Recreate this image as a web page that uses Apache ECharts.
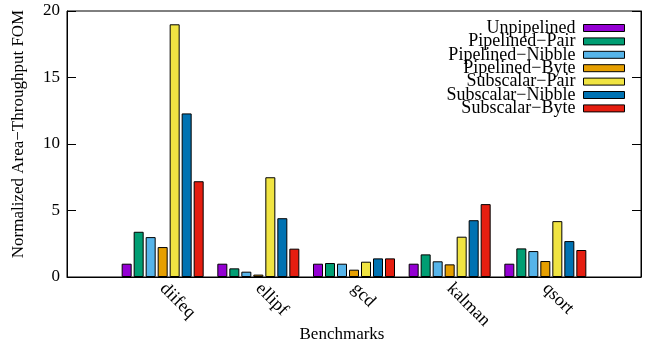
<!DOCTYPE html>
<html><head><meta charset="utf-8">
<script src="https://cdn.jsdelivr.net/npm/echarts@6/dist/echarts.min.js"></script>
<style>html,body{margin:0;padding:0;background:#fff}#c{width:652px;height:345px}</style>
</head><body><div id="c"></div>
<script>
const categories = ['', 'diifeq', 'ellipf', 'gcd', 'kalman', 'qsort', ''];
const seriesNames = ['Unpipelined', 'Pipelined\u2212Pair', 'Pipelined\u2212Nibble', 'Pipelined\u2212Byte', 'Subscalar\u2212Pair', 'Subscalar\u2212Nibble', 'Subscalar\u2212Byte'];
const unpipelined     = [null, 1.0, 1.0, 1.0, 1.0, 1.0, null];
const pipelinedPair   = [null, 3.4, 0.65, 1.05, 1.7, 2.15, null];
const pipelinedNibble = [null, 3.0, 0.4, 1.0, 1.18, 1.95, null];
const pipelinedByte   = [null, 2.25, 0.18, 0.55, 0.95, 1.2, null];
const subscalarPair   = [null, 19.0, 7.5, 1.15, 3.03, 4.2, null];
const subscalarNibble = [null, 12.3, 4.42, 1.4, 4.27, 2.7, null];
const subscalarByte   = [null, 7.2, 2.13, 1.4, 5.48, 2.03, null];
const yTicks = [0, 5, 10, 15, 20];
const colors = ['#9400d3', '#009e73', '#56b4e9', '#e69f00', '#f0e442', '#0072b2', '#e51e10'];
const allData = [unpipelined, pipelinedPair, pipelinedNibble, pipelinedByte, subscalarPair, subscalarNibble, subscalarByte];
const FONT = 'Liberation Serif';

const chart = echarts.init(document.getElementById('c'));
chart.setOption({
  animation: false,
  backgroundColor: '#fff',
  textStyle: { fontFamily: FONT },
  grid: { left: 67, right: 11, top: 11, bottom: 68, show: true, borderColor: '#000', borderWidth: 1, containLabel: false, outerBoundsMode: 'none' },
  legend: {
    orient: 'vertical', align: 'right', right: 22, top: 14,
    itemWidth: 41, itemHeight: 7, itemGap: -4.6,
    icon: 'rect',
    data: seriesNames,
    textStyle: { fontFamily: FONT, fontSize: 18, color: '#000', lineHeight: 18, padding: [0, 3, 0, 0] },
    itemStyle: { borderColor: '#000', borderWidth: 1 }
  },
  xAxis: {
    type: 'category', data: categories, boundaryGap: false,
    axisLine: { lineStyle: { color: '#000', width: 1 } },
    axisTick: { show: false },
    axisLabel: { interval: 0, rotate: -45, margin: 9, fontFamily: FONT, fontSize: 18, color: '#000' },
    name: 'Benchmarks', nameLocation: 'middle', nameGap: 49, nameMoveOverlap: false,
    nameTextStyle: { fontFamily: FONT, fontSize: 17, color: '#000', padding: [0, 24, 0, 0] }
  },
  yAxis: [{
    type: 'value', min: yTicks[0], max: yTicks[yTicks.length - 1], interval: 5,
    axisLine: { show: true, lineStyle: { color: '#000' } },
    axisTick: { show: true, inside: true, length: 9, lineStyle: { color: '#000' } },
    splitLine: { show: false },
    axisLabel: { margin: 7, fontFamily: FONT, fontSize: 17, color: '#000' },
    name: 'Normalized Area\u2212Throughput FOM', nameLocation: 'middle', nameGap: 40, nameMoveOverlap: false,
    nameTextStyle: { fontFamily: FONT, fontSize: 17, color: '#000', padding: [0, 0, 0, 20] }
  }, {
    type: 'value', position: 'right', min: yTicks[0], max: yTicks[yTicks.length - 1], interval: 5,
    axisLine: { show: true, lineStyle: { color: '#000' } },
    axisTick: { show: true, inside: true, length: 9, lineStyle: { color: '#000' } },
    splitLine: { show: false },
    axisLabel: { show: false }
  }],
  series: seriesNames.map((n, i) => ({
    name: n, type: 'bar', data: allData[i], barWidth: 10, barGap: '20%',
    itemStyle: { color: colors[i], borderColor: '#000', borderWidth: 1 }
  }))
});
</script></body></html>
